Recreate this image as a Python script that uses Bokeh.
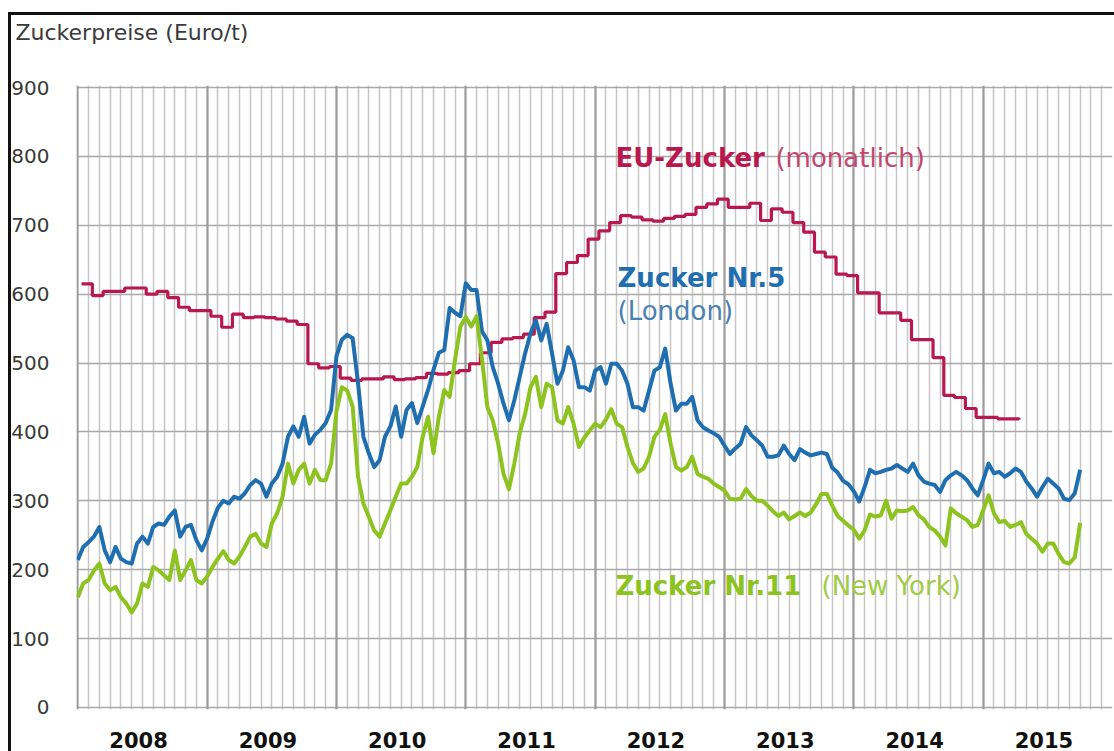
from bokeh.plotting import figure
from bokeh.models import Range1d, FixedTicker, Grid, Label, CustomJSTickFormatter
from bokeh.embed import file_html
from bokeh.resources import INLINE

FONT = "DejaVu Sans"

# ---------------- data ----------------
years = [2008, 2009, 2010, 2011, 2012, 2013, 2014, 2015]
y_ticks = [0, 100, 200, 300, 400, 500, 600, 700, 800, 900]

# EU-Zucker, monthly values from Jan 2008 (Euro/t)
eu_zucker = [
    615, 598, 604, 604, 609, 609, 600, 604, 595, 581, 576, 576,   # 2008
    568, 552, 571, 566, 567, 566, 564, 561, 556, 499, 493, 495,   # 2009
    478, 475, 477, 477, 480, 476, 477, 479, 485, 484, 486, 489,   # 2010
    499, 515, 530, 535, 537, 542, 566, 574, 630, 646, 656, 680,   # 2011
    692, 704, 714, 712, 708, 706, 710, 713, 716, 726, 731, 738,   # 2012
    726, 726, 732, 707, 724, 719, 704, 690, 661, 654, 629, 627,   # 2013
    602, 602, 573, 573, 562, 534, 534, 508, 453, 450, 434, 421,   # 2014
    421, 419, 419, 418,                                           # 2015
]

# Zucker Nr.5 (London), half-monthly values from Jan 2008 (Euro/t)
nr5_london = [
    214, 233, 240, 248, 262, 228, 211, 233, 216, 211, 209, 238, 248, 238, 262, 267, 265, 277, 286, 248, 262, 265, 243, 228,
    245, 270, 290, 300, 296, 306, 303, 311, 323, 330, 325, 306, 325, 335, 354, 393, 408, 393, 422, 383, 396, 403, 413, 432,
    510, 534, 541, 536, 471, 393, 369, 349, 359, 393, 408, 437, 393, 432, 442, 413, 437, 461, 490, 515, 519, 580, 573, 568,
    616, 606, 606, 546, 533, 494, 470, 441, 417, 446, 480, 514, 543, 562, 533, 557, 514, 470, 489, 523, 504, 465, 465, 460,
    489, 494, 470, 499, 499, 489, 470, 436, 436, 431, 460, 489, 494, 521, 470, 431, 441, 441, 451, 417, 407, 402, 398, 393,
    380, 368, 376, 383, 407, 395, 388, 380, 364, 364, 366, 380, 368, 359, 375, 370, 366, 368, 370, 368, 348, 341, 329, 324,
    314, 299, 320, 345, 340, 342, 345, 347, 352, 347, 342, 354, 337, 328, 325, 323, 313, 330, 337, 342, 337, 330, 318, 308,
    330, 354, 340, 342, 335, 340, 347, 342, 328, 318, 306, 320, 332, 325, 318, 303, 301, 311, 345,
]

# Zucker Nr.11 (New York), half-monthly values from Jan 2008 (Euro/t)
nr11_newyork = [
    160, 180, 185, 199, 209, 180, 170, 175, 160, 151, 138, 151, 180, 175, 204, 199, 192, 185, 228, 185, 199, 214, 185, 180,
    190, 204, 216, 227, 214, 209, 219, 233, 248, 252, 238, 233, 267, 282, 306, 354, 325, 345, 354, 325, 345, 330, 330, 354,
    430, 465, 460, 437, 335, 296, 277, 257, 248, 267, 286, 306, 325, 325, 335, 349, 393, 422, 369, 422, 461, 451, 505, 553,
    567, 553, 568, 506, 436, 417, 383, 339, 317, 354, 398, 426, 465, 480, 436, 470, 465, 417, 412, 436, 412, 378, 392, 402,
    412, 407, 418, 433, 412, 407, 378, 355, 342, 347, 364, 393, 403, 426, 383, 349, 344, 349, 364, 339, 335, 332, 325, 320,
    315, 303, 302, 303, 317, 307, 300, 300, 293, 285, 278, 283, 273, 278, 283, 278, 283, 295, 310, 310, 293, 278, 271, 264,
    258, 245, 257, 280, 277, 279, 300, 274, 286, 285, 286, 291, 279, 273, 262, 257, 248, 235, 289, 282, 277, 272, 262, 265,
    286, 308, 282, 269, 271, 262, 265, 269, 252, 245, 238, 226, 238, 238, 223, 211, 209, 218, 268,
]

start_year = years[0]
eu_x = [start_year + (i + 0.35) / 12 for i in range(len(eu_zucker))]
half_x = [start_year + i / 24 for i in range(len(nr5_london))]

RED = "#b8184d"
BLUE = "#1f6fb0"
GREEN = "#8dc31f"

W, H = 1114, 751
p = figure(
    width=W, height=H,
    output_backend="svg", toolbar_location=None,
    x_range=Range1d(2007.99, 2016.0), y_range=Range1d(-3, 903),
    min_border_left=76, min_border_right=2, min_border_top=85, min_border_bottom=42,
    background_fill_color="white", border_fill_color=None,
    outline_line_color=None,
    # the trailing blank line lifts the title towards the top edge
    title="Zuckerpreise (Euro/t)\n ",
)
# black frame lines (left and top) drawn as the element background, no layout change
p.styles = {
    "background-color": "white",
    "background-image": "linear-gradient(#111,#111), linear-gradient(#111,#111)",
    "background-size": "100% 3px, 3px 100%",
    "background-position": "8px 12px, 8px 12px",
    "background-repeat": "no-repeat",
}

# chart title (top left, outside the plot frame)
p.title.align = "left"
p.title.offset = -61
p.title.standoff = 32
p.title.text_font = FONT
p.title.text_font_size = "22px"
p.title.text_font_style = "normal"
p.title.text_color = "#3a3a3a"

# grids
month_ticks = [start_year + m / 12 for m in range(12 * len(years)) if m % 12]
p.xgrid.ticker = FixedTicker(ticks=month_ticks)
p.xgrid.grid_line_color = "#c6c6c6"
p.xgrid.grid_line_width = 1.5
p.ygrid.ticker = FixedTicker(ticks=y_ticks)
p.ygrid.grid_line_color = "#a9a9a9"
p.ygrid.grid_line_width = 1.6
year_grid = Grid(dimension=0, ticker=FixedTicker(ticks=years),
                 grid_line_color="#9a9a9a", grid_line_width=2.2)
p.add_layout(year_grid)

# axes
p.yaxis.ticker = FixedTicker(ticks=y_ticks)
p.yaxis.axis_line_color = None
p.yaxis.major_tick_line_color = None
p.yaxis.minor_tick_line_color = None
p.yaxis.major_label_standoff = 21
p.yaxis.major_label_text_font = FONT
p.yaxis.major_label_text_font_size = "20px"
p.yaxis.major_label_text_color = "#3a3a3a"

p.xaxis.ticker = FixedTicker(ticks=[y + 0.47 for y in years])
p.xaxis.formatter = CustomJSTickFormatter(code="return String(Math.floor(tick));")
p.xaxis.axis_line_color = None
p.xaxis.major_tick_line_color = None
p.xaxis.minor_tick_line_color = None
p.xaxis.major_label_standoff = 16
p.xaxis.major_label_text_font = FONT
p.xaxis.major_label_text_font_size = "21px"
p.xaxis.major_label_text_font_style = "bold"
p.xaxis.major_label_text_color = "#111111"

# series
p.step(eu_x, eu_zucker, mode="after", line_color=RED, line_width=3.2)
p.line(half_x, nr5_london, line_color=BLUE, line_width=4, line_join="round")
p.line(half_x, nr11_newyork, line_color=GREEN, line_width=4, line_join="round")

# texts
def add_label(x, y, text, color, size="26px", style="normal"):
    p.add_layout(Label(x=x, y=y, text=text, text_color=color, text_font=FONT,
                       text_font_size=size, text_font_style=style,
                       text_baseline="middle", text_align="left"))

add_label(2012.157, 798, "EU-Zucker", RED, style="bold")
add_label(2013.394, 798, "(monatlich)", "#c2476f")
add_label(2012.173, 624, "Zucker Nr.5", BLUE, style="bold")
add_label(2012.173, 576, "(London)", "#4a80b2")
add_label(2012.157, 177, "Zucker Nr.11", GREEN, style="bold")
add_label(2013.750, 177, "(New York)", "#9fcb45")

open("out.html", "w").write(file_html(p, INLINE))
